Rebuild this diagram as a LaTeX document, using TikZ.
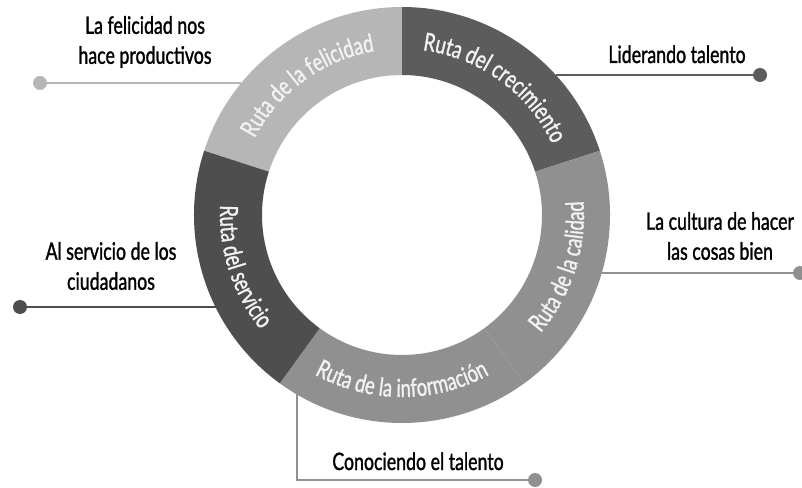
\documentclass[tikz,border=0pt]{standalone}
\usepackage{fontspec}
\setmainfont{Lato}[FakeStretch=0.74, FakeBold=1.2]
\usetikzlibrary{decorations.text}

\definecolor{felgray}{HTML}{B6B6B6}
\definecolor{crecgray}{HTML}{5C5C5C}
\definecolor{calgray}{HTML}{909090}
\definecolor{infgray}{HTML}{909090}
\definecolor{servgray}{HTML}{4E4E4E}
\definecolor{ringtext}{HTML}{F2F2F2}

\newcommand{\ringfont}{\fontsize{12.5}{14}\selectfont}

\begin{document}
\begin{tikzpicture}[x=0.5pt, y=0.5pt,
    label/.style={align=center, font=\fontsize{12}{15}\selectfont, inner sep=0pt},
    leader/.style={line width=1pt},
    dotmark/.style={circle, inner sep=0pt, minimum size=7pt}]

    \useasboundingbox (0,0) rectangle (802,487);
    \fill[white] (0,0) rectangle (802,487);

    \coordinate (c) at (402,272);

    \fill[felgray] ([shift={(162:208)}]c) arc[start angle=162, end angle=90, radius=208]
        -- ([shift={(90:140)}]c) arc[start angle=90, end angle=162, radius=140] -- cycle;
    \fill[crecgray] ([shift={(90:208)}]c) arc[start angle=90, end angle=18, radius=208]
        -- ([shift={(18:140)}]c) arc[start angle=18, end angle=90, radius=140] -- cycle;
    \fill[calgray] ([shift={(18:208)}]c) arc[start angle=18, end angle=-54, radius=208]
        -- ([shift={(-54:140)}]c) arc[start angle=-54, end angle=18, radius=140] -- cycle;
    \fill[infgray] ([shift={(-54:208)}]c) arc[start angle=-54, end angle=-126, radius=208]
        -- ([shift={(-126:140)}]c) arc[start angle=-126, end angle=-54, radius=140] -- cycle;
    \fill[servgray] ([shift={(-126:208)}]c) arc[start angle=-126, end angle=-198, radius=208]
        -- ([shift={(-198:140)}]c) arc[start angle=-198, end angle=-126, radius=140] -- cycle;

    \path[decorate, decoration={text along path, text align=center,
        text={|\ringfont\color{ringtext}|Ruta de la felicidad}}]
        ([shift={(162:166)}]c) arc[start angle=162, end angle=90, radius=166];
    \path[decorate, decoration={text along path, text align=center,
        text={|\ringfont\color{ringtext}|Ruta del crecimiento}}]
        ([shift={(90:166)}]c) arc[start angle=90, end angle=18, radius=166];
    \path[decorate, decoration={text along path, text align=center,
        text={|\ringfont\color{ringtext}|Ruta de la calidad}}]
        ([shift={(-54:182)}]c) arc[start angle=-54, end angle=18, radius=182];
    \path[decorate, decoration={text along path, text align=center,
        text={|\ringfont\color{ringtext}|Ruta de la información}}]
        ([shift={(-126:182)}]c) arc[start angle=-126, end angle=-54, radius=182];
    \path[decorate, decoration={text along path, text align=center,
        text={|\ringfont\color{ringtext}|Ruta del servicio}}]
        ([shift={(162:182)}]c) arc[start angle=162, end angle=234, radius=182];

    \node[label] at (145,445) (felicidad) {La felicidad nos\\hace productivos};
    \node[label, anchor=base] at (677,424) (liderando) {Liderando talento};
    \node[label] at (720,251) (cultura) {La cultura de hacer\\las cosas bien};
    \node[label] at (111,221) (servicio) {Al servicio de los\\ciudadanos};
    \node[label, anchor=base] at (418,17) (conociendo) {Conociendo el talento};

    \coordinate (fedge) at (241,404);
    \coordinate (cedge) at (556,412);
    \coordinate (qedge) at (602,214);
    \coordinate (sedge) at (216,180);
    \coordinate (iedge) at (297,93);

    \node[dotmark, fill=felgray] at (40,404) (fdot) {};
    \node[dotmark, fill=crecgray] at (760,412) (cdot) {};
    \node[dotmark, fill=calgray] at (800,214) (qdot) {};
    \node[dotmark, fill=servgray] at (20,180) (sdot) {};
    \node[dotmark, fill=infgray] at (535,7) (idot) {};

    \draw[leader, felgray] (fdot) -- (fedge);
    \draw[leader, crecgray] (cedge) -- (cdot);
    \draw[leader, calgray] (qedge) -- (qdot);
    \draw[leader, servgray] (sdot) -- (sedge);
    \draw[leader, infgray] (iedge) |- (idot);

\end{tikzpicture}
\end{document}
